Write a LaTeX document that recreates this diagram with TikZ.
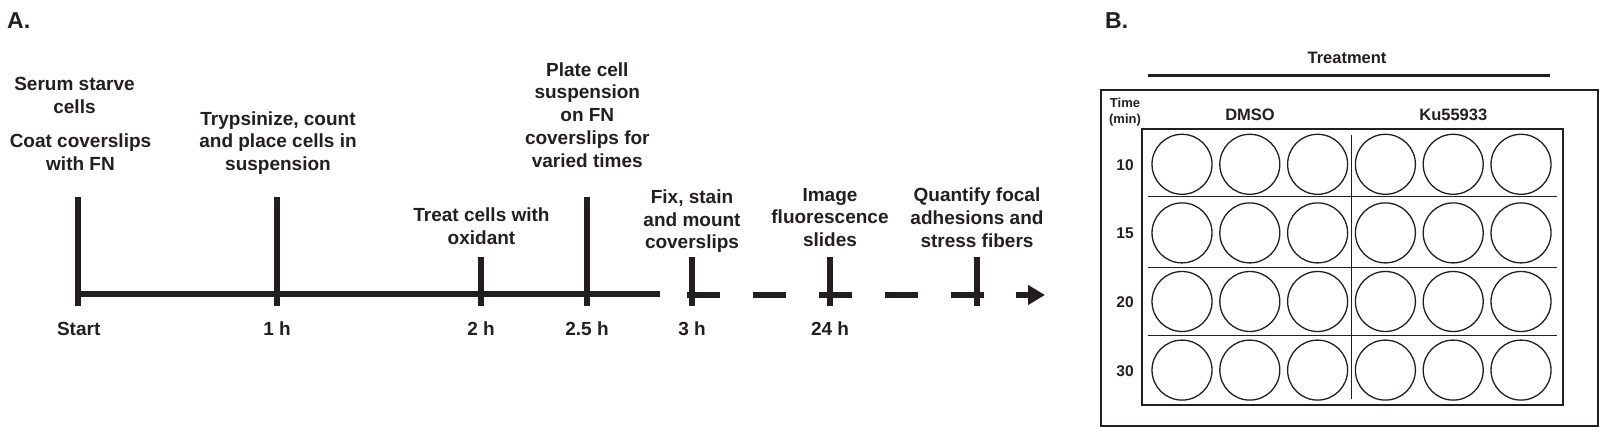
\documentclass[tikz,border=0pt]{standalone}
\usepackage{fontspec}
\setmainfont{Liberation Sans}
\usepackage{tikz}
\usetikzlibrary{arrows.meta,calc}
\definecolor{ink}{HTML}{231F20}

\begin{document}
\begin{tikzpicture}[
    x=1pt, y=-1pt,
    every node/.style={text=ink, inner sep=0pt},
    panel/.style={font=\fontsize{23}{27}\selectfont\bfseries, anchor=base west},
    event/.style={font=\fontsize{19}{22.7}\selectfont\bfseries,
                  align=center, anchor=north},
    tlabel/.style={font=\fontsize{19}{22.7}\selectfont\bfseries, anchor=base},
    axis/.style={draw=ink, line width=6.5pt},
    axisdash/.style={axis, dash pattern=on 33pt off 33pt},
    tickmark/.style={draw=ink, line width=6pt},
    grp/.style={font=\fontsize{16.5}{20}\selectfont\bfseries, anchor=base},
    rowlab/.style={font=\fontsize{15.5}{18}\selectfont\bfseries},
    well/.style={draw=ink, line width=1.3pt},
    gridline/.style={draw=ink, line width=1.4pt},
]
\useasboundingbox (0,0) rectangle (1600,427);

% ── axis heights ─────────────────────────────────────────────
\def\yAxis{294}
\def\yLow{306}
\def\yTall{197}
\def\yShort{257}

% ════ PANEL A ═════════════════════════════════════════════════
\node[panel] (labA) at (7,28.3) {A.};

% ── ticks ────────────────────────────────────────────────────
\foreach \x/\top/\name in {78.3/\yTall/t0, 277.3/\yTall/t1, 480.7/\yShort/t2,
        587.3/\yTall/t25, 691.7/\yShort/t3, 830/\yShort/t24, 977/\yShort/tq}{
    \coordinate (\name) at (\x,\yAxis);
    \draw[tickmark] (\x,\top) -- (\x,\yLow);
}

% ── axis: solid, dashed, arrow ───────────────────────────────
\coordinate (solidEnd) at (660,\yAxis);
\coordinate (dashStart) at (687,\yAxis+1);
\coordinate (dashEnd) at (984,\yAxis+1);
\coordinate (arrStart) at (1016,\yAxis+1);
\coordinate (arrEnd) at (1045,\yAxis+1);
\draw[axis] ($(t0)+(-3,0)$) -- (solidEnd);
\draw[axisdash] (dashStart) -- (dashEnd);
\draw[axis, -{Triangle[length=17pt,width=19pt]}] (arrStart) -- (arrEnd);

% ── time labels ──────────────────────────────────────────────
\node[tlabel] (lStart) at (78.7,335) {Start};
\node[tlabel] (l1)  at (277,335) {1 h};
\node[tlabel] (l2)  at (481,335) {2 h};
\node[tlabel] (l25) at (587,335) {2.5 h};
\node[tlabel] (l3)  at (692,335) {3 h};
\node[tlabel] (l24) at (830,335) {24 h};

% ── steps ────────────────────────────────────────────────────
\node[event] (starve) at (74.5,77)  {Serum starve\\cells};
\node[event] (coat)   at (80.5,134) {Coat coverslips\\with FN};
\node[event] (tryp)   at (278,111.3) {Trypsinize, count\\and place cells in\\suspension};
\node[event] (treat)  at (481.5,208) {Treat cells with\\oxidant};
\node[event] (plate)  at (587.3,62.3) {Plate cell\\suspension\\on FN\\coverslips for\\varied times};
\node[event] (fix)    at (692,189.6) {Fix, stain\\and mount\\coverslips};
\node[event] (image)  at (830,188) {Image\\fluorescence\\slides};
\node[event] (quant)  at (977,188) {Quantify focal\\adhesions and\\stress fibers};

% ════ PANEL B ═════════════════════════════════════════════════
\node[panel] (labB) at (1105,28.3) {B.};

\node[grp] (treatm) at (1347,64) {Treatment};
\draw[draw=ink, line width=2.7pt] (1148.3,75.7) -- (1550,75.7);

% ── plate frame ──────────────────────────────────────────────
\draw[draw=ink, line width=2pt] (1101,90) rectangle (1598.3,426);
\draw[draw=ink, line width=1.7pt] (1141.7,129) rectangle (1563.3,405.3);

\node[font=\fontsize{13}{15.4}\selectfont\bfseries, align=center, anchor=north]
    (time) at (1125,98) {Time\\(min)};
\node[grp] (dmso) at (1250,120.7) {DMSO};
\node[grp] (ku)   at (1453.3,120.7) {Ku55933};

% ── dividers ─────────────────────────────────────────────────
\draw[gridline] (1351.7,135) -- (1351.7,399);
\foreach \y in {196.7,267.3,335.3}{
    \draw[gridline] (1148.3,\y) -- (1556.7,\y);
}

% ── wells ────────────────────────────────────────────────────
\foreach \y/\t in {164.3/10, 232.9/15, 301.5/20, 370.1/30}{
    \node[rowlab] (row\t) at (1125,\y+0.8) {\t};
    \foreach \x in {1182,1249.8,1317.6,1385.4,1453.2,1521}{
        \draw[well] (\x,\y) circle[radius=30pt];
    }
}

\end{tikzpicture}
\end{document}
